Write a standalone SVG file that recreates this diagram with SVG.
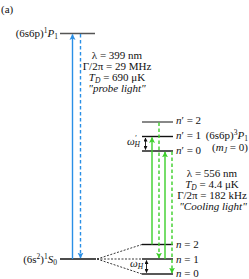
<svg xmlns="http://www.w3.org/2000/svg" width="249" height="279" viewBox="0 0 249 279" font-family="'Liberation Serif','Times New Roman',serif">
<style>
text{font-family:"Liberation Serif","Times New Roman",serif;font-size:11px;fill:#111}
.it{font-style:italic}
.sm{font-size:7.5px}
.lv{stroke:#111;stroke-width:1.4;fill:none}
.lvg{stroke:#555;stroke-width:1.4;fill:none}
.fan{stroke:#222;stroke-width:0.9;stroke-dasharray:2,1.5;fill:none}
.blue{stroke:#2a8fe6;stroke-width:1.4;fill:none}
.green{stroke:#3ccf2a;stroke-width:1.4;fill:none}
.dash{stroke-dasharray:3.5,2.5}
.om{stroke:#111;stroke-width:0.9;fill:none}
</style>
<defs>
<marker id="ab" viewBox="0 0 10 10" refX="9" refY="5" markerWidth="6" markerHeight="7" markerUnits="userSpaceOnUse" orient="auto"><path d="M0,0 L10,5 L0,10 L2.5,5 z" fill="#2a8fe6"/></marker>
<marker id="ag" viewBox="0 0 10 10" refX="9" refY="5" markerWidth="6" markerHeight="7" markerUnits="userSpaceOnUse" orient="auto"><path d="M0,0 L10,5 L0,10 L2.5,5 z" fill="#3ccf2a"/></marker>
<marker id="ak" viewBox="0 0 10 10" refX="9" refY="5" markerWidth="4" markerHeight="4" markerUnits="userSpaceOnUse" orient="auto-start-reverse"><path d="M0,0 L10,5 L0,10 z" fill="#111"/></marker>
</defs>
<text x="1" y="13">(a)</text>
<g id="level-1P1">
<line class="lvg" x1="60" y1="33.5" x2="95" y2="33.5"/>
<text x="58" y="37" text-anchor="end">(6s6p)<tspan class="sm" dy="-4">1</tspan><tspan class="it" dy="4">P</tspan><tspan class="sm" dy="2">1</tspan></text>
</g>
<g id="level-1S0">
<line class="lv" x1="60" y1="259" x2="96" y2="259"/>
<text x="57" y="263" text-anchor="end">(6s<tspan class="sm" dy="-4">2</tspan><tspan dy="4">)</tspan><tspan class="sm" dy="-4">1</tspan><tspan class="it" dy="4">S</tspan><tspan class="sm" dy="2">0</tspan></text>
</g>
<g id="probe-label">
<text x="117" y="59" text-anchor="middle">λ = 399 nm</text>
<text x="117" y="70" text-anchor="middle">Γ/2π = 29 MHz</text>
<text x="117" y="81" text-anchor="middle"><tspan class="it">T</tspan><tspan class="sm it" dy="2">D</tspan><tspan dy="-2"> = 690 μK</tspan></text>
<text x="117" y="92" text-anchor="middle" class="it">"probe light"</text>
</g>
<g id="level-np2">
<line class="lvg" x1="142" y1="122" x2="173" y2="122"/>
<text x="176" y="124"><tspan class="it">n</tspan>′ = 2</text>
</g>
<g id="level-np1">
<line class="lv" x1="142" y1="136.5" x2="173" y2="136.5"/>
<text x="176" y="139"><tspan class="it">n</tspan>′ = 1</text>
</g>
<g id="level-np0">
<line class="lv" x1="142" y1="151" x2="173" y2="151"/>
<text x="176" y="154"><tspan class="it">n</tspan>′ = 0</text>
</g>
<g id="label-3P1">
<text x="248" y="139" text-anchor="end">(6s6p)<tspan class="sm" dy="-4">3</tspan><tspan class="it" dy="4">P</tspan><tspan class="sm" dy="2">1</tspan></text>
<text x="230" y="151" text-anchor="middle">(<tspan class="it">m</tspan><tspan class="sm it" dy="2">J</tspan><tspan dy="-2"> = 0)</tspan></text>
</g>
<g id="level-n2">
<line class="lv" x1="142" y1="244.5" x2="173" y2="244.5"/>
<text x="176" y="248"><tspan class="it">n</tspan> = 2</text>
</g>
<g id="level-n1">
<line class="lv" x1="142" y1="259" x2="173" y2="259"/>
<text x="176" y="263"><tspan class="it">n</tspan> = 1</text>
</g>
<g id="level-n0">
<line class="lv" x1="142" y1="274" x2="173" y2="274"/>
<text x="176" y="277"><tspan class="it">n</tspan> = 0</text>
</g>
<g id="cooling-label">
<text x="212" y="177" text-anchor="middle">λ = 556 nm</text>
<text x="212" y="188" text-anchor="middle"><tspan class="it">T</tspan><tspan class="sm it" dy="2">D</tspan><tspan dy="-2"> = 4.4 μK</tspan></text>
<text x="212" y="199" text-anchor="middle">Γ/2π = 182 kHz</text>
<text x="213" y="210" text-anchor="middle" class="it">"Cooling light"</text>
</g>
<g id="omega-labels">
<text x="127" y="145" class="it">ω<tspan class="sm" dy="-4">′</tspan><tspan class="sm" dx="-2" dy="6">H</tspan></text>
<text x="130" y="267" class="it">ω<tspan class="sm" dy="2">H</tspan></text>
</g>
<g id="connectors">
<line class="fan" x1="97" y1="259" x2="142" y2="244.5"/>
<line class="fan" x1="97" y1="259" x2="142" y2="259"/>
<line class="fan" x1="97" y1="259" x2="142" y2="274"/>
<line class="blue" x1="72.5" y1="259" x2="72.5" y2="34.5" marker-end="url(#ab)"/>
<line class="blue dash" x1="80.5" y1="34" x2="80.5" y2="258" marker-end="url(#ab)"/>
<line class="green" x1="152" y1="244.5" x2="152" y2="137.5" marker-end="url(#ag)"/>
<line class="green dash" x1="159" y1="122.5" x2="159" y2="258" marker-end="url(#ag)"/>
<line class="green" x1="165" y1="259" x2="165" y2="152" marker-end="url(#ag)"/>
<line class="green dash" x1="172" y1="151.5" x2="172" y2="273" marker-end="url(#ag)"/>
<line class="om" x1="145.5" y1="138" x2="145.5" y2="149.5" marker-start="url(#ak)" marker-end="url(#ak)"/>
<line class="om" x1="146.5" y1="260.5" x2="146.5" y2="272.5" marker-start="url(#ak)" marker-end="url(#ak)"/>
</g>
</svg>
